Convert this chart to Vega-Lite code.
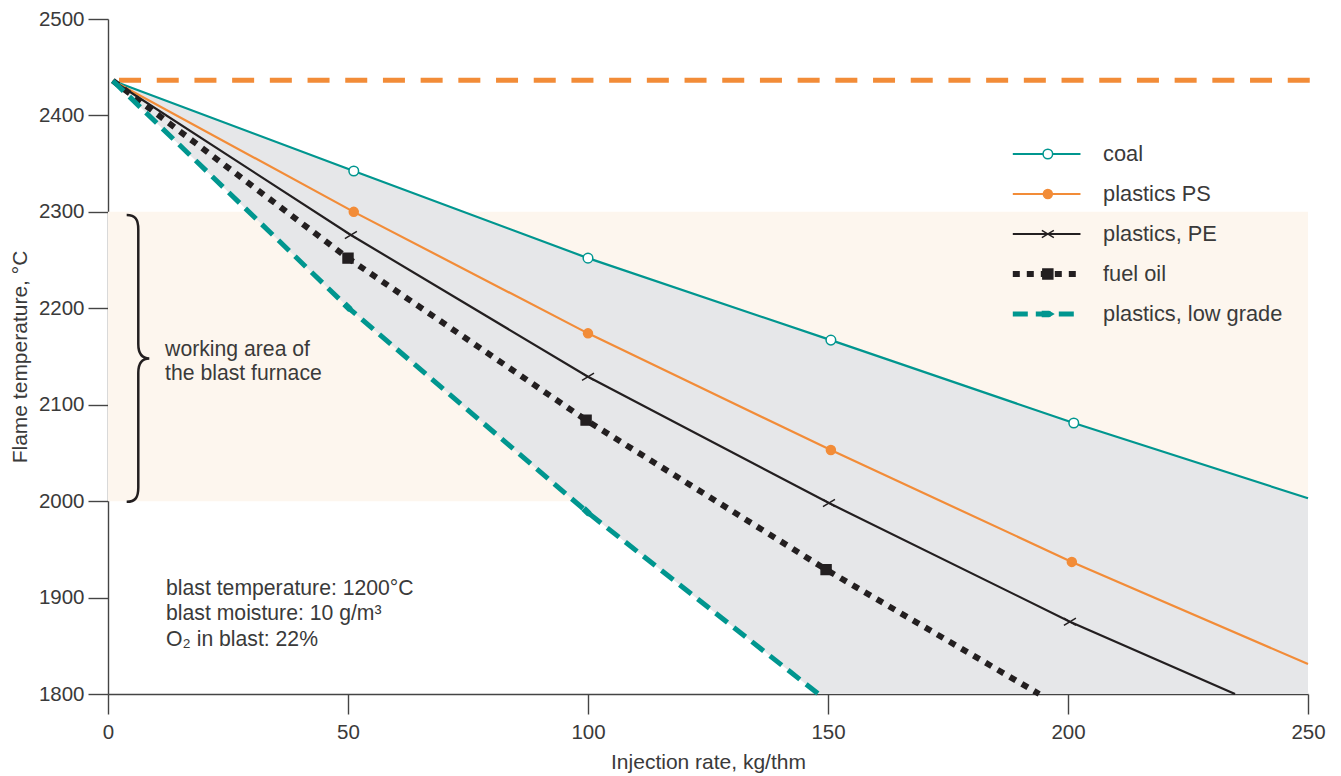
{
  "$schema": "https://vega.github.io/schema/vega-lite/v6.json",
  "width": 1200,
  "height": 675,
  "autosize": {"type": "none"},
  "padding": {"left": 108, "top": 19, "right": 33, "bottom": 82},
  "background": "white",
  "config": {
    "view": {"stroke": null},
    "font": "Liberation Sans",
    "axisX": {"labelFontSize": 20.5, "labelColor": "#3a3a3a", "labelFont": "Liberation Sans", "tickSize": 20, "tickColor": "#444444", "tickWidth": 1.4, "domainColor": "#444444", "domainWidth": 1.4, "labelPadding": 8, "titleFontSize": 21, "titleFontWeight": "normal", "titleColor": "#3a3a3a", "titleFont": "Liberation Sans", "titlePadding": 9, "grid": false, "labelFlush": false, "labelOverlap": false},
    "axisY": {"labelFontSize": 20.5, "labelColor": "#3a3a3a", "labelFont": "Liberation Sans", "tickSize": 20, "tickColor": "#444444", "tickWidth": 1.4, "domainColor": "#444444", "domainWidth": 1.4, "labelPadding": 4, "titleFontSize": 21, "titleFontWeight": "normal", "titleColor": "#3a3a3a", "titleFont": "Liberation Sans", "titlePadding": 8, "grid": false, "labelFlush": false, "labelOverlap": false}
  },
  "datasets": {
    "lines": [
      {"series": "coal", "x": 1, "y": 2436},
      {"series": "coal", "x": 51.2, "y": 2342.4},
      {"series": "coal", "x": 100, "y": 2252},
      {"series": "coal", "x": 150.6, "y": 2167},
      {"series": "coal", "x": 201.2, "y": 2081},
      {"series": "coal", "x": 250, "y": 2003},
      {"series": "plastics PS", "x": 1, "y": 2436},
      {"series": "plastics PS", "x": 51.2, "y": 2300},
      {"series": "plastics PS", "x": 100, "y": 2174},
      {"series": "plastics PS", "x": 150.6, "y": 2053},
      {"series": "plastics PS", "x": 200.8, "y": 1937},
      {"series": "plastics PS", "x": 250, "y": 1831},
      {"series": "plastics, PE", "x": 1, "y": 2436},
      {"series": "plastics, PE", "x": 50.6, "y": 2276},
      {"series": "plastics, PE", "x": 100, "y": 2129},
      {"series": "plastics, PE", "x": 150.2, "y": 1998},
      {"series": "plastics, PE", "x": 200.4, "y": 1875},
      {"series": "plastics, PE", "x": 234.8, "y": 1800},
      {"series": "fuel oil", "x": 1, "y": 2436},
      {"series": "fuel oil", "x": 50, "y": 2252},
      {"series": "fuel oil", "x": 99.6, "y": 2084},
      {"series": "fuel oil", "x": 149.6, "y": 1929},
      {"series": "fuel oil", "x": 194, "y": 1800},
      {"series": "plastics, low grade", "x": 1, "y": 2436},
      {"series": "plastics, low grade", "x": 50.2, "y": 2200},
      {"series": "plastics, low grade", "x": 100, "y": 1988},
      {"series": "plastics, low grade", "x": 148, "y": 1800}
    ],
    "area": [
      {"x": 1, "top": 2436, "bottom": 2436},
      {"x": 50.2, "top": 2344.3, "bottom": 2200},
      {"x": 51.2, "top": 2342.4, "bottom": 2195.7},
      {"x": 100, "top": 2252, "bottom": 1988},
      {"x": 148, "top": 2171.4, "bottom": 1800},
      {"x": 150.6, "top": 2167, "bottom": 1800},
      {"x": 201.2, "top": 2081, "bottom": 1800},
      {"x": 250, "top": 2003, "bottom": 1800}
    ],
    "legend": [
      {"series": "coal"},
      {"series": "plastics PS"},
      {"series": "plastics, PE"},
      {"series": "fuel oil"},
      {"series": "plastics, low grade"}
    ]
  },
  "layer": [
    {
      "layer": [
        {
          "data": {"values": [{}]},
          "mark": {"type": "rect", "color": "#fdf6ee"},
          "encoding": {
            "x": {"datum": 0, "type": "quantitative", "scale": {"domain": [0, 250], "nice": false, "zero": false}, "title": "Injection rate, kg/thm", "axis": {"values": [0, 50, 100, 150, 200, 250], "format": "d"}},
            "x2": {"datum": 250},
            "y": {"datum": 2000, "type": "quantitative", "scale": {"domain": [1800, 2500], "nice": false, "zero": false}, "title": "Flame temperature, °C", "axis": {"values": [1800, 1900, 2000, 2100, 2200, 2300, 2400, 2500], "format": "d"}},
            "y2": {"datum": 2300}
          }
        },
        {
          "data": {"name": "area"},
          "mark": {"type": "area", "color": "#e6e7e9", "opacity": 1},
          "encoding": {
            "x": {"field": "x", "type": "quantitative", "scale": {"domain": [0, 250], "nice": false, "zero": false}, "title": "Injection rate, kg/thm"},
            "y": {"field": "top", "type": "quantitative", "scale": {"domain": [1800, 2500], "nice": false, "zero": false}, "title": "Flame temperature, °C"},
            "y2": {"field": "bottom"}
          }
        },
        {
          "data": {"values": [{}]},
          "mark": {"type": "rule", "color": "#f28c38", "strokeWidth": 5, "strokeDash": [22, 15.7]},
          "encoding": {
            "x": {"datum": 2.3, "type": "quantitative", "scale": {"domain": [0, 250], "nice": false, "zero": false}, "title": "Injection rate, kg/thm"},
            "x2": {"datum": 251},
            "y": {"datum": 2436.5, "type": "quantitative", "scale": {"domain": [1800, 2500], "nice": false, "zero": false}, "title": "Flame temperature, °C"}
          }
        },
        {
          "data": {"name": "lines"},
          "transform": [{"filter": {"field": "series", "oneOf": ["coal", "plastics PS", "plastics, PE"]}}],
          "mark": {"type": "line", "strokeWidth": 2.2},
          "encoding": {
            "x": {"field": "x", "type": "quantitative", "scale": {"domain": [0, 250], "nice": false, "zero": false}, "title": "Injection rate, kg/thm"},
            "y": {"field": "y", "type": "quantitative", "scale": {"domain": [1800, 2500], "nice": false, "zero": false}, "title": "Flame temperature, °C"},
            "color": {"field": "series", "type": "nominal", "legend": null, "scale": {"domain": ["coal", "plastics PS", "plastics, PE", "fuel oil", "plastics, low grade"], "range": ["#00968f", "#f28c38", "#231f20", "#231f20", "#00968f"]}},
            "order": {"field": "x", "type": "quantitative"}
          }
        },
        {
          "data": {"name": "lines"},
          "transform": [{"filter": {"field": "series", "equal": "fuel oil"}}],
          "mark": {"type": "line", "strokeWidth": 6, "strokeDash": [7, 7], "color": "#231f20"},
          "encoding": {
            "x": {"field": "x", "type": "quantitative", "scale": {"domain": [0, 250], "nice": false, "zero": false}, "title": "Injection rate, kg/thm"},
            "y": {"field": "y", "type": "quantitative", "scale": {"domain": [1800, 2500], "nice": false, "zero": false}, "title": "Flame temperature, °C"},
            "order": {"field": "x", "type": "quantitative"}
          }
        },
        {
          "data": {"name": "lines"},
          "transform": [{"filter": {"field": "series", "equal": "plastics, low grade"}}],
          "mark": {"type": "line", "strokeWidth": 5, "strokeDash": [15, 8], "color": "#00968f"},
          "encoding": {
            "x": {"field": "x", "type": "quantitative", "scale": {"domain": [0, 250], "nice": false, "zero": false}, "title": "Injection rate, kg/thm"},
            "y": {"field": "y", "type": "quantitative", "scale": {"domain": [1800, 2500], "nice": false, "zero": false}, "title": "Flame temperature, °C"},
            "order": {"field": "x", "type": "quantitative"}
          }
        },
        {
          "data": {"name": "lines"},
          "transform": [{"filter": "datum.x > 2 && datum.x < 230 && datum.y > 1800 && datum.series != 'plastics, low grade'"}],
          "mark": {"type": "point", "size": 144, "strokeWidth": 1.5, "opacity": 1},
          "encoding": {
            "x": {"field": "x", "type": "quantitative", "scale": {"domain": [0, 250], "nice": false, "zero": false}, "title": "Injection rate, kg/thm"},
            "y": {"field": "y", "type": "quantitative", "scale": {"domain": [1800, 2500], "nice": false, "zero": false}, "title": "Flame temperature, °C"},
            "shape": {"field": "series", "type": "nominal", "legend": null, "scale": {"domain": ["coal", "plastics PS", "plastics, PE", "fuel oil", "plastics, low grade"], "range": ["M0.8,0A0.8,0.8 0 1 1 -0.8,0A0.8,0.8 0 1 1 0.8,0Z", "M0.75,0A0.75,0.75 0 1 1 -0.75,0A0.75,0.75 0 1 1 0.75,0Z", "M-1,-0.6L1,0.6M-1,0.6L1,-0.6", "M-0.83,-0.83H0.83V0.83H-0.83Z", "M-0.9,-0.4L0.2,-0.4L0.9,0L0.2,0.4L-0.9,0.4Z"]}},
            "fill": {"field": "series", "type": "nominal", "legend": null, "scale": {"domain": ["coal", "plastics PS", "plastics, PE", "fuel oil", "plastics, low grade"], "range": ["#ffffff", "#f28c38", "transparent", "#231f20", "#00968f"]}},
            "stroke": {"field": "series", "type": "nominal", "legend": null, "scale": {"domain": ["coal", "plastics PS", "plastics, PE", "fuel oil", "plastics, low grade"], "range": ["#00968f", "#f28c38", "#231f20", "#231f20", "#00968f"]}}
          }
        },
        {
          "data": {"name": "lines"},
          "transform": [{"filter": "datum.x > 2 && datum.y > 1800 && datum.series == 'plastics, low grade'"}],
          "mark": {"type": "point", "size": 144, "strokeWidth": 1.5, "opacity": 1, "angle": 44},
          "encoding": {
            "x": {"field": "x", "type": "quantitative", "scale": {"domain": [0, 250], "nice": false, "zero": false}, "title": "Injection rate, kg/thm"},
            "y": {"field": "y", "type": "quantitative", "scale": {"domain": [1800, 2500], "nice": false, "zero": false}, "title": "Flame temperature, °C"},
            "shape": {"field": "series", "type": "nominal", "legend": null},
            "fill": {"field": "series", "type": "nominal", "legend": null},
            "stroke": {"field": "series", "type": "nominal", "legend": null}
          }
        },
        {
          "data": {"values": [{}]},
          "mark": {"type": "point", "shape": "M-0.081,-1C-0.02,-1 0,-0.97 0,-0.9L0,-0.1C0,-0.03 0.03,0 0.077,0C0.03,0 0,0.03 0,0.1L0,0.9C0,0.97 -0.02,1 -0.081,1", "size": 82200, "filled": false, "stroke": "#231f20", "strokeWidth": 2.5, "opacity": 1},
          "encoding": {
            "x": {"datum": 6.31, "type": "quantitative", "scale": {"domain": [0, 250], "nice": false, "zero": false}, "title": "Injection rate, kg/thm"},
            "y": {"datum": 2148, "type": "quantitative", "scale": {"domain": [1800, 2500], "nice": false, "zero": false}, "title": "Flame temperature, °C"}
          }
        },
        {
          "data": {"values": [{}]},
          "mark": {"type": "text", "text": ["working area of", "the blast furnace"], "align": "left", "baseline": "middle", "fontSize": 21.2, "lineHeight": 24, "color": "#3a3a3a", "font": "Liberation Sans"},
          "encoding": {
            "x": {"datum": 11.9, "type": "quantitative", "scale": {"domain": [0, 250], "nice": false, "zero": false}, "title": "Injection rate, kg/thm"},
            "y": {"datum": 2156.5, "type": "quantitative", "scale": {"domain": [1800, 2500], "nice": false, "zero": false}, "title": "Flame temperature, °C"}
          }
        },
        {
          "data": {"values": [{}]},
          "mark": {"type": "text", "text": ["blast temperature: 1200°C", "blast moisture: 10 g/m³", "O₂ in blast: 22%"], "align": "left", "baseline": "middle", "fontSize": 21.2, "lineHeight": 25.5, "color": "#3a3a3a", "font": "Liberation Sans"},
          "encoding": {
            "x": {"datum": 12.1, "type": "quantitative", "scale": {"domain": [0, 250], "nice": false, "zero": false}, "title": "Injection rate, kg/thm"},
            "y": {"datum": 1909, "type": "quantitative", "scale": {"domain": [1800, 2500], "nice": false, "zero": false}, "title": "Flame temperature, °C"}
          }
        }
      ]
    },
    {
      "data": {"name": "legend"},
      "layer": [
        {
          "transform": [{"filter": {"field": "series", "oneOf": ["coal", "plastics PS", "plastics, PE"]}}],
          "mark": {"type": "rule", "strokeWidth": 2.2},
          "encoding": {
            "x": {"datum": 188.5, "type": "quantitative", "scale": {"domain": [0, 250], "nice": false, "zero": false}, "title": "Injection rate, kg/thm"},
            "x2": {"datum": 202.6},
            "y": {"field": "series", "type": "nominal", "axis": null, "scale": {"type": "point", "domain": ["coal", "plastics PS", "plastics, PE", "fuel oil", "plastics, low grade"], "range": [135, 295], "padding": 0}},
            "color": {"field": "series", "type": "nominal", "legend": null}
          }
        },
        {
          "transform": [{"filter": {"field": "series", "equal": "fuel oil"}}],
          "mark": {"type": "rule", "strokeWidth": 6, "strokeDash": [7, 7], "color": "#231f20"},
          "encoding": {
            "x": {"datum": 188.5, "type": "quantitative", "scale": {"domain": [0, 250], "nice": false, "zero": false}, "title": "Injection rate, kg/thm"},
            "x2": {"datum": 202.6},
            "y": {"field": "series", "type": "nominal", "axis": null}
          }
        },
        {
          "transform": [{"filter": {"field": "series", "equal": "plastics, low grade"}}],
          "mark": {"type": "rule", "strokeWidth": 5, "strokeDash": [15, 8], "color": "#00968f"},
          "encoding": {
            "x": {"datum": 188.5, "type": "quantitative", "scale": {"domain": [0, 250], "nice": false, "zero": false}, "title": "Injection rate, kg/thm"},
            "x2": {"datum": 202.6},
            "y": {"field": "series", "type": "nominal", "axis": null}
          }
        },
        {
          "mark": {"type": "point", "size": 144, "strokeWidth": 1.5, "opacity": 1},
          "encoding": {
            "x": {"datum": 195.8, "type": "quantitative", "scale": {"domain": [0, 250], "nice": false, "zero": false}, "title": "Injection rate, kg/thm"},
            "y": {"field": "series", "type": "nominal", "axis": null},
            "shape": {"field": "series", "type": "nominal", "legend": null},
            "fill": {"field": "series", "type": "nominal", "legend": null},
            "stroke": {"field": "series", "type": "nominal", "legend": null}
          }
        },
        {
          "mark": {"type": "text", "align": "left", "baseline": "middle", "fontSize": 21.8, "color": "#3a3a3a", "font": "Liberation Sans"},
          "encoding": {
            "x": {"datum": 207.3, "type": "quantitative", "scale": {"domain": [0, 250], "nice": false, "zero": false}, "title": "Injection rate, kg/thm"},
            "y": {"field": "series", "type": "nominal", "axis": null},
            "text": {"field": "series", "type": "nominal"}
          }
        }
      ]
    }
  ],
  "resolve": {"scale": {"y": "independent"}}
}
